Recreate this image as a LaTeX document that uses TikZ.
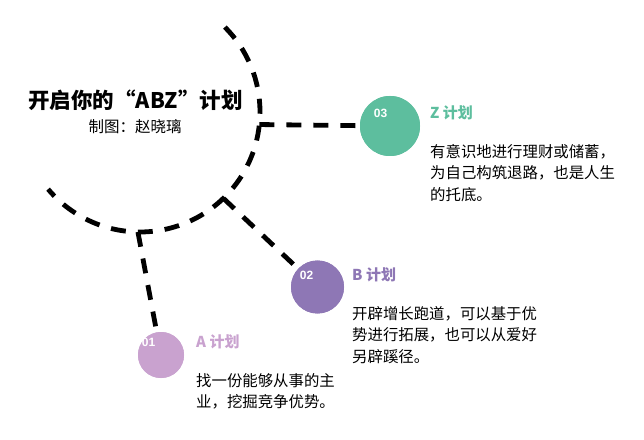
\documentclass[tikz,border=0pt]{standalone}
\usepackage{fontspec}
\setmainfont{Noto Sans CJK SC}
\newfontfamily\numfont{Liberation Sans}
\usetikzlibrary{positioning}
\definecolor{planz}{RGB}{93, 190, 158}
\definecolor{planb}{RGB}{142, 119, 181}
\definecolor{plana}{RGB}{201, 162, 207}

\begin{document}
\begin{tikzpicture}[
  x=1pt, y=1pt,
  dashline/.style={line width=4.8pt, dash pattern=on 15pt off 12pt},
  planball/.style={circle, inner sep=0pt, fill=#1},
  num/.style={text=white, inner sep=0pt, font=\numfont\bfseries\fontsize{12}{12}\selectfont},
  planhead/.style={anchor=west, inner sep=0pt, text=#1, font=\bfseries\fontsize{15}{15}\selectfont},
  plantext/.style={align=left, inner sep=0pt, font=\fontsize{15.4}{21.7}\selectfont}
]
\useasboundingbox (0,0) rectangle (644,439);
\fill[white] (0,0) rectangle (644,439);

% title
\node[font=\bfseries\fontsize{21.5}{21.5}\selectfont, inner sep=0pt] (title) at (135.5,339) {开启你的“ABZ”计划};
\node[font=\fontsize{15.5}{15.5}\selectfont, inner sep=0pt] (author) at (135,312) {制图：赵晓璃};

% dashed ring
\coordinate (ctr) at (140,327);
\draw[dashline] ([shift={(45:120)}]ctr) arc[start angle=45, end angle=-140, radius=120];
\coordinate (zjoin) at ([shift={(-6:120)}]ctr);
\coordinate (bjoin) at ([shift={(-46:120)}]ctr);
\coordinate (ajoin) at ([shift={(-91:120)}]ctr);

% plans
\node[planball=planz, minimum size=60pt] (circ3) at (390,313) {};
\node[planball=planb, minimum size=53pt] (circ2) at (317.5,152) {};
\node[planball=plana, minimum size=46pt] (circ1) at (161,84) {};

\draw[dashline] (zjoin) -- (circ3);
\draw[dashline] (bjoin) -- (circ2);
\draw[dashline] (ajoin) -- (circ1);
\node[planball=planz, minimum size=60pt] at (circ3) {};
\node[planball=planb, minimum size=53pt] at (circ2) {};
\node[planball=plana, minimum size=46pt] at (circ1) {};

\node[num] (num3) at ([xshift=-9.5pt, yshift=13pt]circ3.center) {03};
\node[num] (num2) at ([xshift=-11pt, yshift=12pt]circ2.center) {02};
\node[num] (num1) at ([xshift=-12.5pt, yshift=12.5pt]circ1.center) {01};

\node[planhead=planz] (zhead) at (430,326) {Z 计划};
\node[planhead=planb] (bhead) at (352,164) {B 计划};
\node[planhead=plana] (ahead) at (196,97) {A 计划};

\node[plantext, below right=31pt and 0pt of zhead.west] (ztext) {有意识地进行理财或储蓄，\\为自己构筑退路，也是人生\\的托底。};
\node[plantext, below right=31pt and 0pt of bhead.west] (btext) {开辟增长跑道，可以基于优\\势进行拓展，也可以从爱好\\另辟蹊径。};
\node[plantext, below right=31pt and 0pt of ahead.west] (atext) {找一份能够从事的主\\业，挖掘竞争优势。};
\end{tikzpicture}
\end{document}
